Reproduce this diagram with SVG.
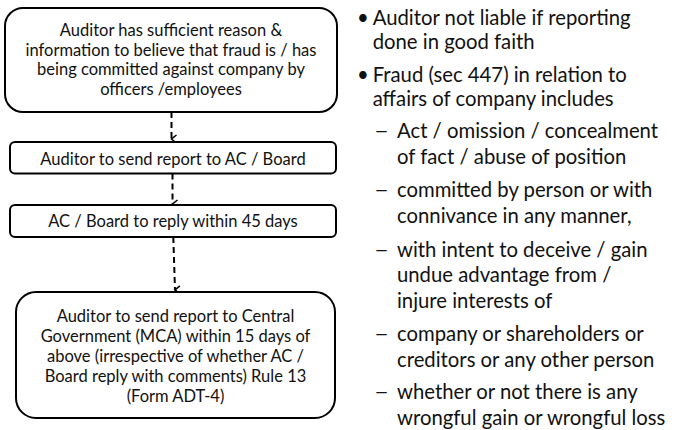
<svg xmlns="http://www.w3.org/2000/svg" width="675" height="430" viewBox="0 0 675 430">
  <defs>
    <marker id="arrow" viewBox="0 0 10 10" refX="5" refY="8" markerWidth="10" markerHeight="10" markerUnits="userSpaceOnUse" orient="auto-start-reverse">
      <path d="M1,3 L5,8 L9,3" fill="none" stroke="#000" stroke-width="1.6"/>
    </marker>
    <style>
      .box { fill: #fff; stroke: #000; stroke-width: 2; }
      .bt { font-family: Lato, "Liberation Sans", sans-serif; font-size: 16.5px; fill: #111; text-anchor: middle; }
      .rt { font-family: Lato, "Liberation Sans", sans-serif; font-size: 20.3px; fill: #111; }
      .conn { fill: none; stroke: #000; stroke-width: 2; stroke-dasharray: 6 4; }
    </style>
  </defs>
  <rect width="675" height="430" fill="#fff"/>

  <g id="connectors">
    <path class="conn" d="M171.5,112 L171.5,139" marker-end="url(#arrow)"/>
    <path class="conn" d="M172.5,173.5 L172.5,204" marker-end="url(#arrow)"/>
    <path class="conn" d="M173.3,237 L175,290" stroke-dasharray="7 5" marker-end="url(#arrow)"/>
  </g>

  <g id="node-suspicion">
    <rect class="box" x="5" y="8" width="332" height="104" rx="18"/>
    <text class="bt" x="171" y="36">Auditor has sufficient reason &amp;</text>
    <text class="bt" x="171" y="55.5">information to believe that fraud is / has</text>
    <text class="bt" x="171" y="75">being committed against company by</text>
    <text class="bt" x="171" y="95">officers /employees</text>
  </g>

  <g id="node-report-board">
    <rect class="box" x="10" y="142" width="326" height="31.5" rx="5"/>
    <text class="bt" x="173" y="165">Auditor to send report to AC / Board</text>
  </g>

  <g id="node-board-reply">
    <rect class="box" x="10" y="205" width="326" height="32" rx="5"/>
    <text class="bt" x="173" y="227">AC / Board to reply within 45 days</text>
  </g>

  <g id="node-report-mca">
    <rect class="box" x="16" y="292" width="319" height="126" rx="20"/>
    <text class="bt" x="175.5" y="322">Auditor to send report to Central</text>
    <text class="bt" x="175.5" y="342">Government (MCA) within 15 days of</text>
    <text class="bt" x="175.5" y="362">above (irrespective of whether AC /</text>
    <text class="bt" x="175.5" y="382">Board reply with comments) Rule 13</text>
    <text class="bt" x="175.5" y="402">(Form ADT-4)</text>
  </g>

  <g id="notes">
    <text class="rt" x="357" y="25">•</text>
    <text class="rt" x="372.7" y="25">Auditor not liable if reporting</text>
    <text class="rt" x="372.7" y="49">done in good faith</text>
    <text class="rt" x="357" y="82">•</text>
    <text class="rt" x="372.7" y="82">Fraud (sec 447) in relation to</text>
    <text class="rt" x="372.7" y="106">affairs of company includes</text>

    <text class="rt" x="374" y="138" textLength="15" lengthAdjust="spacingAndGlyphs">–</text>
    <text class="rt" x="397" y="138">Act / omission / concealment</text>
    <text class="rt" x="397" y="164">of fact / abuse of position</text>
    <text class="rt" x="374" y="197" textLength="15" lengthAdjust="spacingAndGlyphs">–</text>
    <text class="rt" x="397" y="197">committed by person or with</text>
    <text class="rt" x="397" y="223">connivance in any manner,</text>
    <text class="rt" x="374" y="257" textLength="15" lengthAdjust="spacingAndGlyphs">–</text>
    <text class="rt" x="397" y="257">with intent to deceive / gain</text>
    <text class="rt" x="397" y="282">undue advantage from /</text>
    <text class="rt" x="397" y="308">injure interests of</text>
    <text class="rt" x="374" y="341" textLength="15" lengthAdjust="spacingAndGlyphs">–</text>
    <text class="rt" x="397" y="341">company or shareholders or</text>
    <text class="rt" x="397" y="367">creditors or any other person</text>
    <text class="rt" x="374" y="399" textLength="15" lengthAdjust="spacingAndGlyphs">–</text>
    <text class="rt" x="397" y="399">whether or not there is any</text>
    <text class="rt" x="397" y="425">wrongful gain or wrongful loss</text>
  </g>
</svg>
